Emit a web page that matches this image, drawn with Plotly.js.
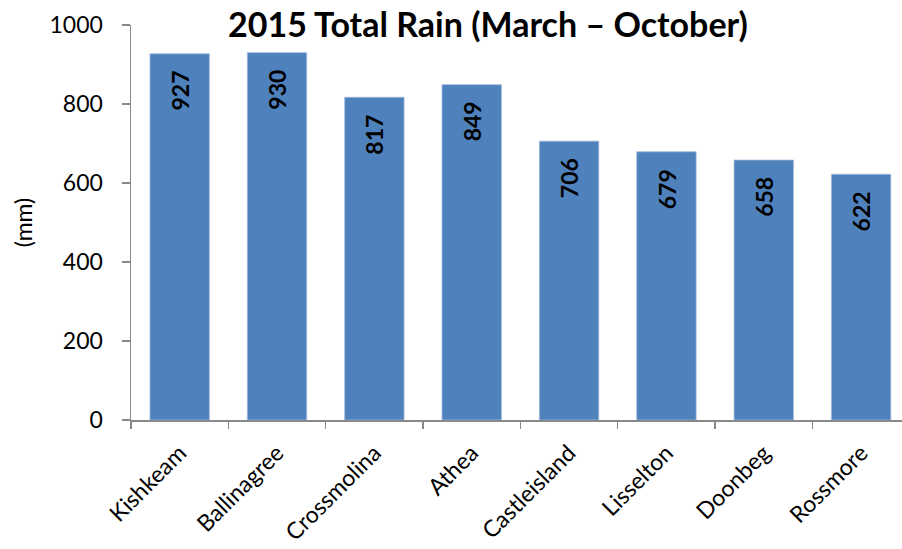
<!DOCTYPE html>
<html>
<head>
<meta charset="utf-8">
<script src="https://cdn.plot.ly/plotly-3.0.1.min.js"></script>
<style>html,body{margin:0;padding:0;background:#fff;}#chart{width:902px;height:549px;}</style>
</head>
<body>
<div id="chart"></div>
<script>
var categories = ["Kishkeam", "Ballinagree", "Crossmolina", "Athea", "Castleisland", "Lisselton", "Doonbeg", "Rossmore"];
var rainfall = [927, 930, 817, 849, 706, 679, 658, 622];
var yTickVals = [0, 200, 400, 600, 800, 1000];

var FONT = "Lato, 'Open Sans', sans-serif";

var trace = {
  type: "bar",
  x: categories,
  y: rainfall,
  marker: {color: "#4F81BD", line: {color: "#9FB8DA", width: 0.8}},
  hoverinfo: "x+y"
};

var annotations = categories.map(function (c, i) {
  return {
    x: c, y: rainfall[i], xref: "x", yref: "y",
    text: String(rainfall[i]),
    textangle: -90,
    showarrow: false,
    xanchor: "center", yanchor: "top",
    yshift: -15,
    font: {family: FONT, size: 23, color: "#000", weight: "bold"}
  };
});

var layout = {
  width: 902, height: 549,
  margin: {l: 131, r: 0, t: 24.5, b: 129},
  paper_bgcolor: "#fff", plot_bgcolor: "#fff",
  showlegend: false,
  bargap: 0.39,
  title: {
    text: "<b>2015 Total Rain (March \u2013 October)</b>",
    font: {family: FONT, size: 34, color: "#000"},
    x: 0.541, xanchor: "center", xref: "container",
    y: 0.955, yanchor: "middle", yref: "container"
  },
  xaxis: {
    type: "category",
    range: [-0.5, 7.42],
    tickson: "boundaries",
    ticks: "outside", ticklen: 7, tickwidth: 1.5, tickcolor: "#898989",
    showline: true, linecolor: "#898989", linewidth: 1.5,
    showgrid: false, zeroline: false,
    tickangle: -45,
    ticklabelstandoff: 9,
    tickfont: {family: FONT, size: 23, color: "#000"},
    automargin: false
  },
  yaxis: {
    range: [0, 1000],
    tickvals: yTickVals,
    ticks: "outside", ticklen: 8, tickwidth: 1.5, tickcolor: "#898989",
    showline: true, linecolor: "#898989", linewidth: 1.5,
    showgrid: false, zeroline: false,
    ticklabelstandoff: 14,
    tickfont: {family: FONT, size: 23, color: "#000"},
    title: {text: "(mm)", standoff: 10, font: {family: FONT, size: 23, color: "#000"}},
    automargin: false
  },
  annotations: annotations
};

Plotly.newPlot("chart", [trace], layout, {displayModeBar: false, staticPlot: true});
</script>
</body>
</html>
